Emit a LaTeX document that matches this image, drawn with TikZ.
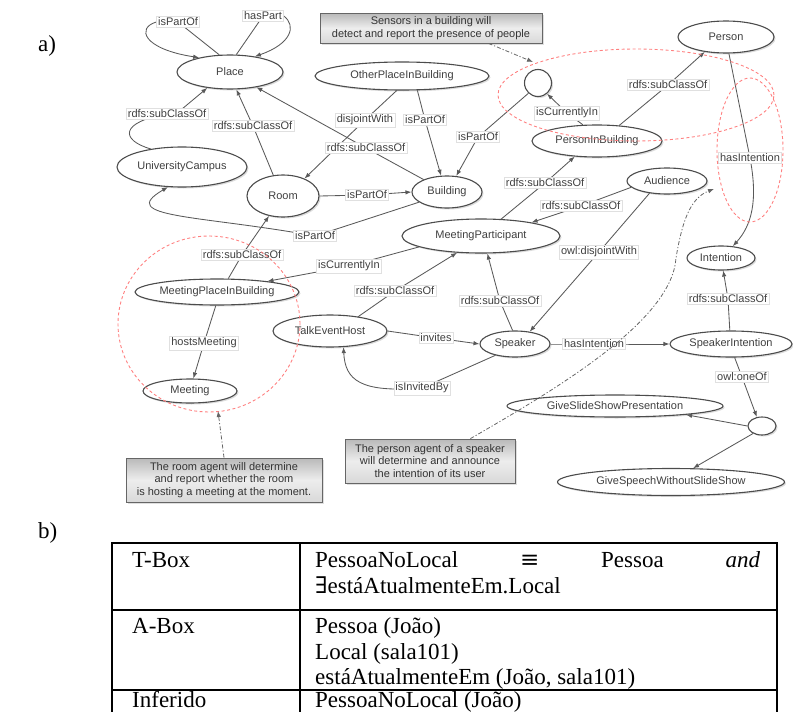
\documentclass[tikz,border=0pt]{standalone}
\usepackage{fontspec}
\setmainfont{Liberation Serif}
\newfontfamily\sansf{Liberation Sans}
\newfontfamily\symf{DejaVu Serif}
\usetikzlibrary{shapes.geometric,arrows.meta,shadows}
\pgfdeclarelayer{bg}
\pgfsetlayers{bg,main}
\begin{document}
\begin{tikzpicture}[x=1pt,y=-1pt,
  sz/.style n args={2}{minimum width=#1pt,minimum height=#2pt},
  ell/.style={ellipse,draw=black!70,line width=1.1pt,fill=white,inner sep=0pt,
    font=\sansf\fontsize{11}{12}\selectfont,text=black!75,
    drop shadow={opacity=0.28,shadow xshift=1.5pt,shadow yshift=-1.5pt}},
  lab/.style={rectangle,fill=white,draw=black!12,line width=0.4pt,inner sep=1.6pt,
    font=\sansf\fontsize{11}{12}\selectfont,text=black!75},
  edge/.style={draw=black!65,line width=0.85pt},
  arr/.style={edge,-{Latex[length=6pt,width=4.5pt]}},
  note/.style={rectangle,draw=black!60,line width=0.8pt,top color=gray!55,bottom color=gray!30,middle color=gray!14,
    font=\sansf\fontsize{11}{12.8}\selectfont,text=black!80,align=center,inner sep=0pt,
    drop shadow={opacity=0.25,shadow xshift=1.5pt,shadow yshift=-1.5pt}},
  noteline/.style={draw=black!60,line width=0.8pt,dash pattern=on 4pt off 2pt on 1.2pt off 2pt,-{Latex[length=6pt,width=4.5pt]}},
  redd/.style={draw=red!50,line width=0.9pt,dash pattern=on 3pt off 2.5pt},
  tabtext/.style={font=\fontsize{23}{26}\selectfont,anchor=base west,inner sep=0pt},
  tabline/.style={draw=black,line width=1.3pt}
]
\useasboundingbox (0,0) rectangle (793,712);

% part labels
\node[tabtext] (la) at (38,51) {a)};
\node[tabtext] (lb) at (38,538) {b)};

% ellipse nodes
\node[ell,sz={106}{34}] (Place) at (230,72) {Place};
\node[ell,sz={130}{40}] (UC) at (182,167) {UniversityCampus};
\node[ell,sz={72}{42}] (Room) at (283,196) {Room};
\node[ell,sz={70}{32}] (Building) at (447,192) {Building};
\node[ell,sz={174}{28}] (OPIB) at (402,76) {OtherPlaceInBuilding};
\node[ell,sz={27}{27}] (C1) at (538,83) {};
\node[ell,sz={130}{32}] (PIB) at (597,141) {PersonInBuilding};
\node[ell,sz={96}{32}] (Person) at (726,37) {Person};
\node[ell,sz={80}{26}] (Audience) at (667,181) {Audience};
\node[ell,sz={68}{24}] (Intention) at (721,258) {Intention};
\node[ell,sz={122}{26}] (SI) at (731,344) {SpeakerIntention};
\node[ell,sz={158}{34}] (MP) at (481,236) {MeetingParticipant};
\node[ell,sz={70}{26}] (Speaker) at (515,344) {Speaker};
\node[ell,sz={114}{32}] (TEH) at (330,331) {TalkEventHost};
\node[ell,sz={164}{26}] (MPIB) at (217,292) {MeetingPlaceInBuilding};
\node[ell,sz={94}{24}] (Meeting) at (190,391) {Meeting};
\node[ell,sz={216}{22}] (GSSP) at (615,406) {GiveSlideShowPresentation};
\node[ell,sz={28}{18}] (C2) at (762,426) {};
\node[ell,sz={227}{27}] (GSWSS) at (671,482) {GiveSpeechWithoutSlideShow};

% edge labels
\node[lab] (lPartOf1) at (178,22) {isPartOf};
\node[lab] (lHasPart) at (263,16) {hasPart};
\node[lab] (lSubUC) at (167,114) {rdfs:subClassOf};
\node[lab] (lSubRoom) at (253,126) {rdfs:subClassOf};
\node[lab] (lSubBld) at (366,148) {rdfs:subClassOf};
\node[lab] (lDisj) at (365,120) {disjointWith};
\node[lab] (lPartOf2) at (425,120) {isPartOf};
\node[lab] (lPartOf3) at (478,137) {isPartOf};
\node[lab] (lCurIn1) at (567,113) {isCurrentlyIn};
\node[lab] (lPartOf4) at (367,195) {isPartOf};
\node[lab] (lPartOf5) at (315,236) {isPartOf};
\node[lab] (lSubMPIB) at (242,255) {rdfs:subClassOf};
\node[lab] (lCurIn2) at (349,266) {isCurrentlyIn};
\node[lab] (lSubTEH) at (395,291) {rdfs:subClassOf};
\node[lab] (lSubSpk) at (500,301) {rdfs:subClassOf};
\node[lab] (lDisj2) at (599,252) {owl:disjointWith};
\node[lab] (lSubPIB) at (668,85) {rdfs:subClassOf};
\node[lab] (lSubAud) at (581,206) {rdfs:subClassOf};
\node[lab] (lSubMP) at (545,183) {rdfs:subClassOf};
\node[lab] (lHasInt1) at (750,158) {hasIntention};
\node[lab] (lSubSI) at (728,299) {rdfs:subClassOf};
\node[lab] (lHasInt2) at (594,344) {hasIntention};
\node[lab] (lOneOf) at (742,377) {owl:oneOf};
\node[lab] (lInv) at (436,338) {invites};
\node[lab] (lInvBy) at (422,388) {isInvitedBy};
\node[lab] (lHosts) at (204,343) {hostsMeeting};

% notes
\node[note,minimum width=222pt,minimum height=30pt] (note1) at (431,28) {Sensors in a building will\\detect and report the presence of people};
\node[note,minimum width=196pt,minimum height=44pt] (note2) at (224,480) {The room agent will determine\\and report whether the room\\is hosting a meeting at the moment.};
\node[note,minimum width=170pt,minimum height=44pt] (note3) at (430,461) {The person agent of a speaker\\will determine and announce\\the intention of its user};
\coordinate (n1end) at (533,62);
\coordinate (n2end) at (218,411);
\coordinate (n3end) at (714,189);

% connectors
\begin{pgfonlayer}{bg}
\draw[arr] (Place.122) -- (lPartOf1.center) -- (lPartOf1.west) .. controls (136,28) and (143,49) .. (Place.155);
\draw[arr] (Place.70) -- (lHasPart.center) -- (lHasPart.east) .. controls (297,26) and (291,44) .. (Place.32);
\draw[arr] (UC.150) .. controls (120,140) and (120,122) .. (lSubUC.center) -- (lSubUC.20) -- (Place.215);
\draw[arr] (Room.115) -- (lSubRoom.center) -- (Place.290);
\draw[arr] (Building.152) -- (lSubBld.center) -- (Place.-30);
\draw[arr] (OPIB.250) -- (lDisj.center) -- (Room.39);
\draw[arr] (OPIB.-43) -- (lPartOf2.center) -- (Building.110);
\draw[arr] (C1.227) -- (lPartOf3.center) -- (Building.60);
\draw[arr] (PIB.131) -- (lCurIn1.center) -- (C1.-50);
\draw[arr] (Room.east) -- (lPartOf4.center) -- (Building.west);
\draw[arr] (Building.200) -- (lPartOf5.center) .. controls (200,215) and (115,218) .. (UC.235);
\draw[arr] (MPIB.50) -- (lSubMPIB.center) -- (Room.235);
\draw[arr] (MP.190) -- (lCurIn2.center) -- (MPIB.12);
\draw[arr] (TEH.27) -- (lSubTEH.center) -- (MP.215);
\draw[arr] (Speaker.100) -- (lSubSpk.center) -- (MP.290);
\draw[arr] (Audience.215) -- (lDisj2.center) -- (Speaker.40);
\draw[arr] (PIB.35) -- (lSubPIB.center) -- (Person.215);
\draw[arr] (Audience.190) -- (lSubAud.center) -- (MP.15);
\draw[arr] (MP.40) -- (lSubMP.center) -- (PIB.215);
\draw[arr] (Person.280) -- (lHasInt1.center) .. controls (758,200) and (752,225) .. (Intention.45);
\draw[arr] (SI.95) -- (lSubSI.center) -- (Intention.280);
\draw[arr] (Speaker.east) -- (lHasInt2.center) -- (SI.west);
\draw[arr] (SI.-75) -- (lOneOf.center) -- (C2.120);
\draw[arr] (C2.west) -- (GSSP.-7);
\draw[arr] (C2.220) -- (GSWSS.32);
\draw[arr] (TEH.east) -- (lInv.center) -- (Speaker.west);
\draw[arr] (Speaker.210) -- (lInvBy.center) .. controls (360,393) and (345,380) .. (TEH.-50);
\draw[arr] (MPIB.265) -- (lHosts.center) -- (Meeting.75);
\end{pgfonlayer}

% red dashed groupings
\draw[redd] (209,324) ellipse [x radius=91pt,y radius=88pt];
\draw[redd] (636,95) ellipse [x radius=138pt,y radius=46pt];
\draw[redd] (750,150) ellipse [x radius=33pt,y radius=72pt];

% note pointers
\draw[noteline] (note1.-15) -- (n1end);
\draw[noteline] (note2.north) -- (n2end);
\draw[noteline] (note3.29) .. controls (560,387) and (672,320) .. (676,258) .. controls (682,222) and (690,198) .. (n3end);

% table b)
\draw[tabline] (112,712) -- (112,543) -- (777,543) -- (777,712);
\draw[tabline] (300,543) -- (300,712);
\draw[tabline] (112,610) -- (777,610);
\draw[tabline] (112,690) -- (777,690);
\node[tabtext] (tb1) at (132,567) {T-Box};
\node[tabtext] (tb2) at (315,567) {\hbox to 445pt{PessoaNoLocal\hfill{\symf ≡}\hfill Pessoa\hfill\textit{and}}};
\node[tabtext] (tb3) at (315,593) {{\symf ∃}estáAtualmenteEm.Local};
\node[tabtext] (ab1) at (132,633) {A-Box};
\node[tabtext] (ab2) at (315,633) {Pessoa (João)};
\node[tabtext] (ab3) at (315,659) {Local (sala101)};
\node[tabtext] (ab4) at (315,684) {estáAtualmenteEm (João, sala101)};
\node[tabtext] (in1) at (132,707) {Inferido};
\node[tabtext] (in2) at (315,707) {PessoaNoLocal (João)};
\end{tikzpicture}
\end{document}
